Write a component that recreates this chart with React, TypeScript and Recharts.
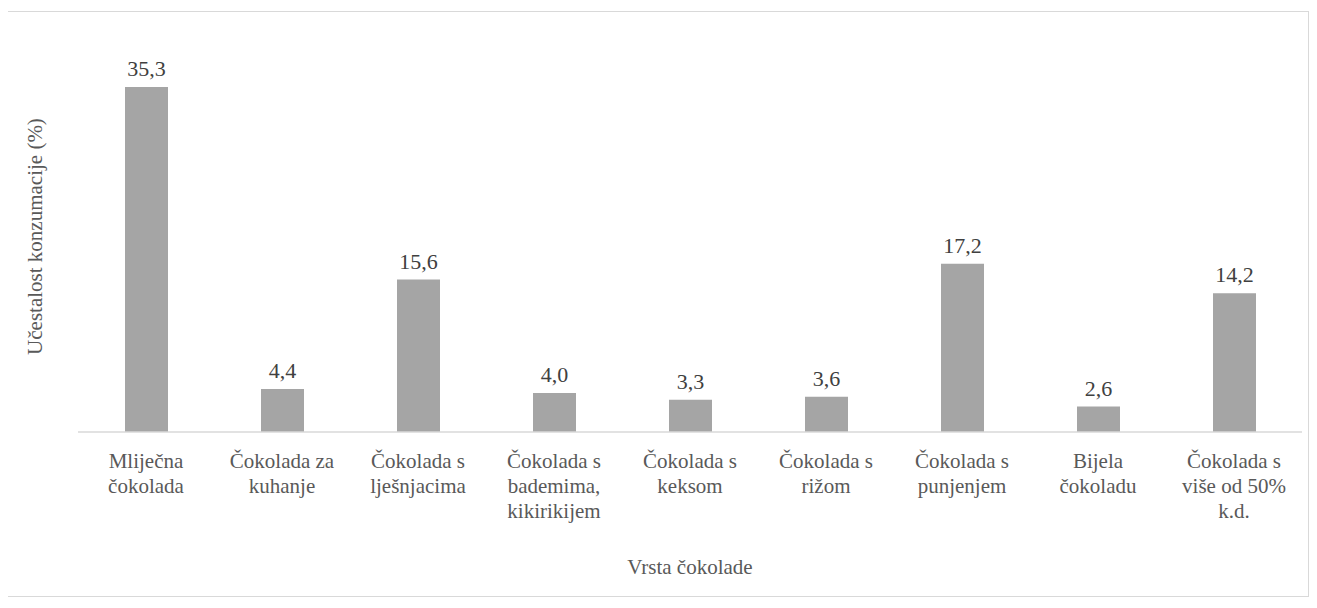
import React from "react";
import { BarChart, Bar, XAxis, YAxis, LabelList } from "recharts";

// ─────────────────────────────────────────
// Data
// ─────────────────────────────────────────
const CATEGORY_LINES: string[][] = [
  ["Mliječna", "čokolada"],
  ["Čokolada za", "kuhanje"],
  ["Čokolada s", "lješnjacima"],
  ["Čokolada s", "bademima,", "kikirikijem"],
  ["Čokolada s", "keksom"],
  ["Čokolada s", "rižom"],
  ["Čokolada s", "punjenjem"],
  ["Bijela", "čokoladu"],
  ["Čokolada s", "više od 50%", "k.d."],
];
const VALUES = [35.3, 4.4, 15.6, 4.0, 3.3, 3.6, 17.2, 2.6, 14.2];

const Y_TITLE = "Učestalost konzumacije (%)";
const X_TITLE = "Vrsta čokolade";

const data = VALUES.map((v, i) => ({ key: String(i), value: v }));

const FONT = "Liberation Serif";
const TEXT = "#595959";

function CategoryTick({ x, y, payload }: any) {
  const lines = CATEGORY_LINES[Number(payload.value)] ?? [];
  return (
    <text x={x} y={y} textAnchor="middle" fill={TEXT} fontFamily={FONT} fontSize={21}>
      {lines.map((l, i) => (
        <tspan key={i} x={x} dy={i === 0 ? 28 : 25}>{l}</tspan>
      ))}
    </text>
  );
}

function YTitle({ viewBox }: any) {
  const cx = 27;
  const cy = viewBox.y + viewBox.height / 2;
  return (
    <text x={cx} y={cy} transform={`rotate(-90 ${cx} ${cy})`} textAnchor="middle"
      dominantBaseline="central" fill={TEXT} fontFamily={FONT} fontSize={21}>
      {Y_TITLE}
    </text>
  );
}

function XTitle({ viewBox }: any) {
  const cx = viewBox.x + viewBox.width / 2;
  return (
    <text x={cx} y={555} textAnchor="middle" dominantBaseline="central"
      fill={TEXT} fontFamily={FONT} fontSize={21}>
      {X_TITLE}
    </text>
  );
}

export default function App() {
  return (
    <div style={{
      marginLeft: -1, marginTop: 3, width: 1302, height: 586,
      border: "1px solid #d9d9d9", boxSizing: "border-box", fontFamily: FONT,
    }}>
      <BarChart
        width={1300}
        height={584}
        data={data}
        margin={{ top: 29, right: 6, left: 0, bottom: 0 }}
      >
        <XAxis
          dataKey="key"
          height={164}
          interval={0}
          tickLine={false}
          axisLine={{ stroke: "#d9d9d9", strokeWidth: 1.5 }}
          tick={<CategoryTick />}
          label={<XTitle />}
        />
        <YAxis
          width={70}
          domain={[0, 40]}
          tick={false}
          tickLine={false}
          axisLine={false}
          label={<YTitle />}
        />
        <Bar dataKey="value" fill="#a5a5a5" barSize={43} isAnimationActive={false}>
          <LabelList
            dataKey="value"
            position="top"
            offset={11}
            fill="#404040"
            fontFamily={FONT}
            fontSize={22}
            formatter={(v: any) => Number(v).toFixed(1).replace(".", ",")}
          />
        </Bar>
      </BarChart>
    </div>
  );
}
